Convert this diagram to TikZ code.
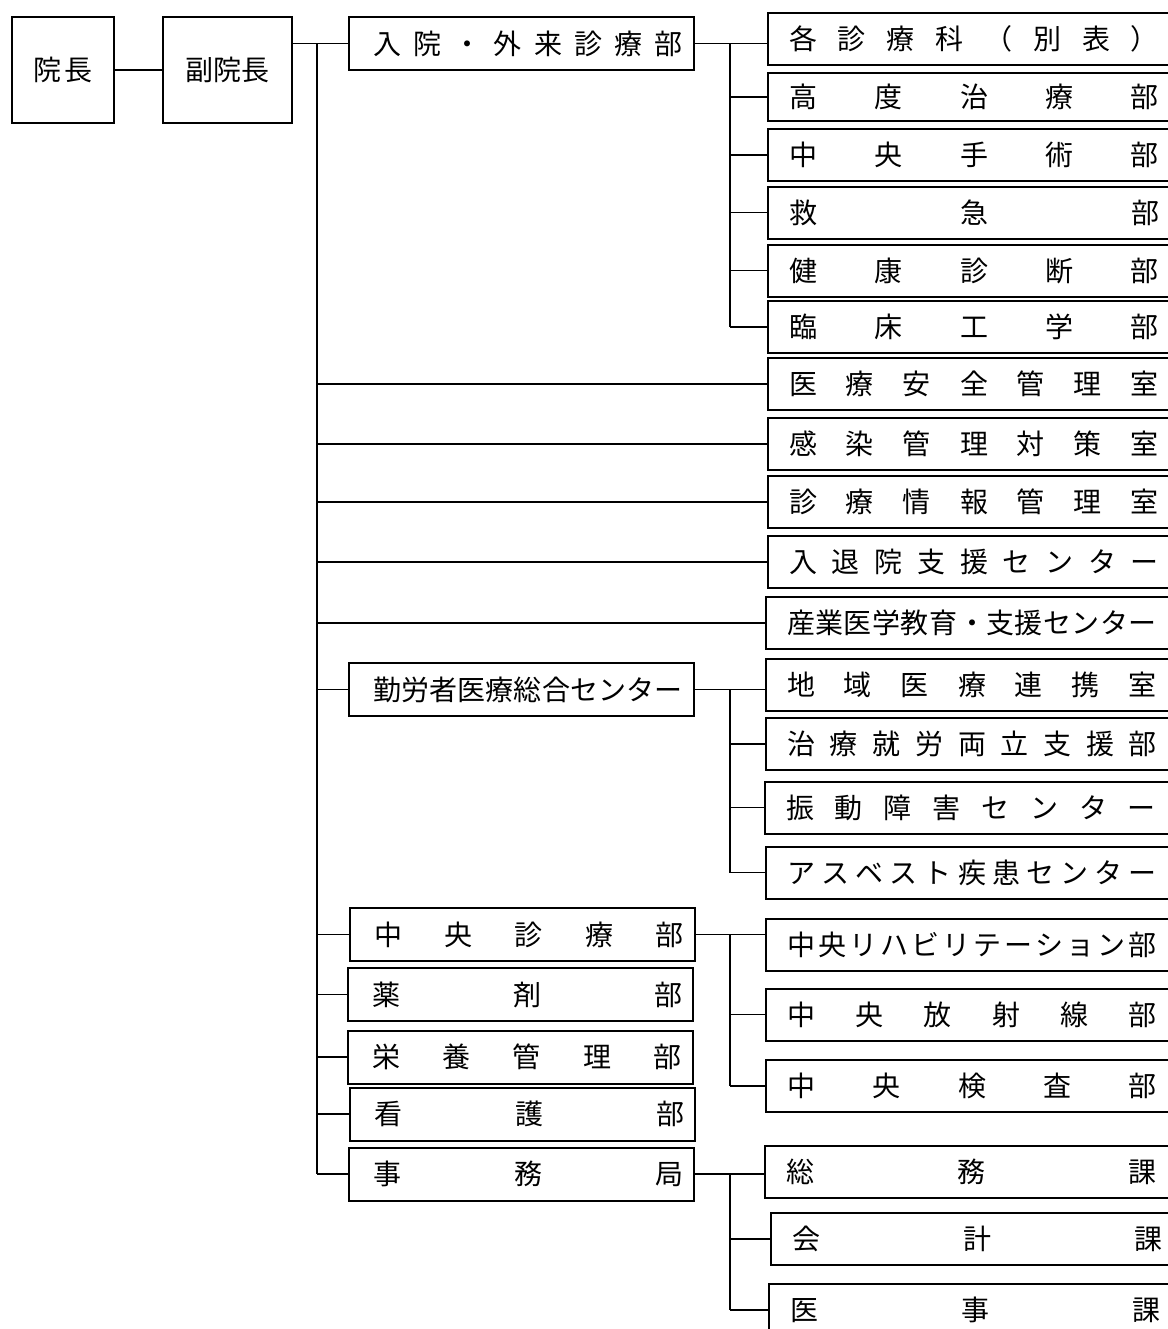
\documentclass[tikz,border=0pt]{standalone}
\usepackage{fontspec}
\setmainfont{Noto Sans CJK JP}
\usepackage{tikz}
\usetikzlibrary{positioning,calc}

% spread the characters of a label evenly over a given width
\newcommand{\gobbleone}[1]{}
\newcommand{\spreadchars}[2]{\makebox[#1]{\spreadnext#2\relax}}
\def\spreadnext#1#2{#1\ifx\relax#2\expandafter\gobbleone\else\hfill\expandafter\spreadnext\fi#2}

\begin{document}
\begin{tikzpicture}[
        x=0.5pt, y=-0.5pt,
        box/.style={draw, line width=1pt, inner sep=0pt, font=\fontsize{14pt}{16pt}\selectfont},
        headbox/.style={box, minimum width=51pt, minimum height=53pt},
        mbox/.style={box, anchor=west, minimum width=172.5pt, minimum height=26.5pt, execute at begin node={\hspace*{6.5pt}}},
        rbox/.style={box, anchor=west, minimum width=204pt, minimum height=26pt, inner xsep=10.5pt},
        link/.style={line width=0.9pt}
    ]
    \useasboundingbox (0,0) rectangle (1168,1329);

    % top of the chart
    \node (incho) [headbox] at (63,70) {\spreadchars{30pt}{院長}};
    \node (fuku) [headbox, minimum width=64.5pt] at (227.5,70) {副院長};

    % second column
    \node (nyuin) [mbox] at (348,43.5) {\spreadchars{155pt}{入院・外来診療部}};
    \node (kinro) [mbox] at (348,689.5) {\spreadchars{155pt}{勤労者医療総合センター}};
    \node (chuo) [mbox] at (349,934.5) {\spreadchars{155pt}{中央診療部}};
    \node (yakuzai) [mbox] at (347,994.5) {\spreadchars{155pt}{薬剤部}};
    \node (eiyo) [mbox] at (347,1057) {\spreadchars{155pt}{栄養管理部}};
    \node (kango) [mbox] at (349,1114) {\spreadchars{155pt}{看護部}};
    \node (jimu) [mbox] at (348,1174) {\spreadchars{155pt}{事務局}};

    % right column
    \node (kaku) [rbox] at (767,39) {\spreadchars{185pt}{各診療科（別表）}};
    \node (kodo) [rbox, minimum height=24pt] at (767,97) {\spreadchars{185pt}{高度治療部}};
    \node (shujutsu) [rbox] at (767,155) {\spreadchars{185pt}{中央手術部}};
    \node (kyukyu) [rbox] at (767,212.5) {\spreadchars{185pt}{救急部}};
    \node (kenshin) [rbox] at (767,270.5) {\spreadchars{185pt}{健康診断部}};
    \node (rinsho) [rbox] at (767,327) {\spreadchars{185pt}{臨床工学部}};
    \node (anzen) [rbox] at (767,384) {\spreadchars{185pt}{医療安全管理室}};
    \node (kansen) [rbox] at (767,444) {\spreadchars{185pt}{感染管理対策室}};
    \node (joho) [rbox] at (767,502) {\spreadchars{185pt}{診療情報管理室}};
    \node (taiin) [rbox] at (767,562) {\spreadchars{185pt}{入退院支援センター}};
    \node (sangyo) [rbox] at (765,623) {\spreadchars{185pt}{産業医学教育・支援センター}};
    \node (chiiki) [rbox] at (765,684.5) {\spreadchars{185pt}{地域医療連携室}};
    \node (ryoritsu) [rbox] at (765,744) {\spreadchars{185pt}{治療就労両立支援部}};
    \node (shindo) [rbox] at (764,807.5) {\spreadchars{185pt}{振動障害センター}};
    \node (asbest) [rbox] at (765,872.5) {\spreadchars{185pt}{アスベスト疾患センター}};
    \node (riha) [rbox] at (765,944.5) {\spreadchars{185pt}{中央リハビリテーション部}};
    \node (hosha) [rbox] at (765,1014.5) {\spreadchars{185pt}{中央放射線部}};
    \node (kensa) [rbox] at (765,1086) {\spreadchars{185pt}{中央検査部}};
    \node (somu) [rbox] at (764,1172) {\spreadchars{185pt}{総務課}};
    \node (kaikei) [rbox] at (770,1239) {\spreadchars{185pt}{会計課}};
    \node (iji) [rbox] at (768,1310) {\spreadchars{185pt}{医事課}};

    \coordinate (trunk) at (317,0);
    \coordinate (sub) at (730,0);

    \draw[link] (incho) -- (fuku);
    \draw[link] (fuku.east |- nyuin.west) -- (nyuin.west);

    % main trunk
    \draw[link] (trunk |- nyuin.west) -- (trunk |- jimu.west);
    \draw[link] (trunk |- anzen.west) -- (anzen.west);
    \draw[link] (trunk |- kansen.west) -- (kansen.west);
    \draw[link] (trunk |- joho.west) -- (joho.west);
    \draw[link] (trunk |- taiin.west) -- (taiin.west);
    \draw[link] (trunk |- sangyo.west) -- (sangyo.west);
    \draw[link] (trunk |- kinro.west) -- (kinro.west);
    \draw[link] (trunk |- chuo.west) -- (chuo.west);
    \draw[link] (trunk |- yakuzai.west) -- (yakuzai.west);
    \draw[link] (trunk |- eiyo.west) -- (eiyo.west);
    \draw[link] (trunk |- kango.west) -- (kango.west);
    \draw[link] (trunk |- jimu.west) -- (jimu.west);

    % 入院・外来診療部
    \draw[link] (nyuin.east) -- (nyuin.east -| kaku.west);
    \draw[link] (sub |- nyuin.east) -- (sub |- rinsho.west);
    \draw[link] (sub |- kodo.west) -- (kodo.west);
    \draw[link] (sub |- shujutsu.west) -- (shujutsu.west);
    \draw[link] (sub |- kyukyu.west) -- (kyukyu.west);
    \draw[link] (sub |- kenshin.west) -- (kenshin.west);
    \draw[link] (sub |- rinsho.west) -- (rinsho.west);

    % 勤労者医療総合センター
    \draw[link] (kinro.east) -- (kinro.east -| chiiki.west);
    \draw[link] (sub |- kinro.east) -- (sub |- asbest.west);
    \draw[link] (sub |- ryoritsu.west) -- (ryoritsu.west);
    \draw[link] (sub |- shindo.west) -- (shindo.west);
    \draw[link] (sub |- asbest.west) -- (asbest.west);

    % 中央診療部
    \draw[link] (chuo.east) -- (chuo.east -| riha.west);
    \draw[link] (sub |- chuo.east) -- (sub |- kensa.west);
    \draw[link] (sub |- hosha.west) -- (hosha.west);
    \draw[link] (sub |- kensa.west) -- (kensa.west);

    % 事務局
    \draw[link] (jimu.east) -- (jimu.east -| somu.west);
    \draw[link] (sub |- jimu.east) -- (sub |- iji.west);
    \draw[link] (sub |- kaikei.west) -- (kaikei.west);
    \draw[link] (sub |- iji.west) -- (iji.west);
\end{tikzpicture}
\end{document}
